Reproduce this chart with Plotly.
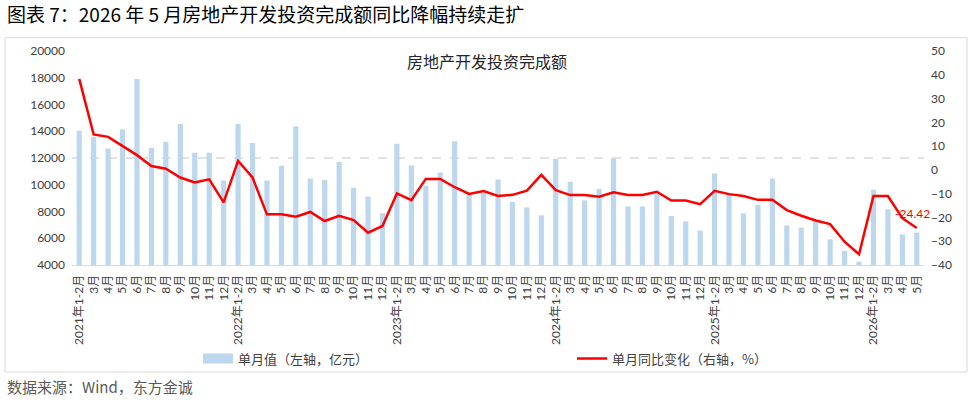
import plotly.graph_objects as go

# ---------------- data ----------------
years = ["2021", "2022", "2023", "2024", "2025", "2026"]
months_full = ["1-2", "3", "4", "5", "6", "7", "8", "9", "10", "11", "12"]
months_2026 = ["1-2", "3", "4", "5"]

monthly_value = [
    14030, 13580, 12710, 14130, 17910, 12760, 13210, 14550, 12390, 12390, 10320,
    14550, 13130, 10320, 11420, 14380, 10470, 10350, 11710, 9770, 9130, 7880,
    13060, 11440, 9920, 10920, 13260, 9300, 9380, 10400, 8710, 8310, 7710,
    11940, 10220, 8830, 9680, 11960, 8380, 8380, 9350, 7660, 7260, 6570,
    10840, 9300, 7860, 8510, 10470, 6960, 6790, 7360, 5920, 5050, 4250,
    9630, 8160, 6290, 6420,
]
monthly_yoy = [
    38.3, 14.9, 13.9, 10.1, 6.2, 1.6, 0.5, -3.2, -5.3, -4.0, -13.7,
    3.8, -3.2, -18.7, -18.7, -19.7, -17.7, -21.5, -19.3, -21.1, -26.4, -23.6,
    -9.9, -12.7, -3.8, -3.8, -7.3, -10.1, -8.9, -11.0, -10.5, -8.7, -2.1,
    -8.5, -10.6, -10.6, -11.3, -9.4, -10.6, -10.6, -9.2, -12.9, -12.9, -14.4,
    -8.8, -10.2, -11.0, -12.6, -12.6, -16.9, -19.3, -21.3, -22.8, -30.2, -35.5,
    -11.0, -11.0, -20.3, -24.42,
]

cat_ids, cat_labels = [], []
for y in years:
    ms = months_2026 if y == "2026" else months_full
    for m in ms:
        cat_ids.append(f"{y}-{m}")
        cat_labels.append(f"{y}年{m}月" if m == "1-2" else f"{m}月")

# ---------------- layout geometry ----------------
W, H = 974, 400
L, R, T, B = 72, 924, 51, 265
PW, PH = R - L, B - T


def px2x(px):
    return (px - L) / PW


def px2y(py):
    return (B - py) / PH


BAR_C = "#BDD7EE"
LINE_C = "#FF0000"
NUM_FONT = "Lato, Noto Sans CJK SC, sans-serif"
CJK_FONT = "Noto Sans CJK SC, sans-serif"

fig = go.Figure()
fig.add_trace(go.Bar(
    x=cat_ids, y=monthly_value, marker_color=BAR_C, marker_line_width=0,
    width=0.36, showlegend=False, yaxis="y",
))
# legend proxy for bars (wide swatch)
fig.add_trace(go.Scatter(
    x=[None], y=[None], mode="lines", line=dict(color=BAR_C, width=10),
    name="单月值（左轴，亿元）",
))
fig.add_trace(go.Scatter(
    x=cat_ids, y=monthly_yoy, mode="lines", line=dict(color=LINE_C, width=2.5),
    name="单月同比变化（右轴，%）", yaxis="y2",
))

fig.add_annotation(
    x=cat_ids[-1], y=monthly_yoy[-1], xref="x", yref="y2",
    text=f"{monthly_yoy[-1]:.2f}", showarrow=False, xshift=-4, yshift=14,
    font=dict(family=NUM_FONT, size=12, color=LINE_C),
)

fig.add_shape(type="line", xref="paper", yref="y", x0=0, x1=1, y0=12000, y1=12000,
              line=dict(color="#D9D9D9", width=1.5, dash="dash"), layer="below")
fig.add_shape(type="rect", xref="paper", yref="paper",
              x0=px2x(5), x1=px2x(967), y0=px2y(372), y1=px2y(37.7),
              line=dict(color="#D9D9D9", width=1))

fig.add_annotation(
    x=px2x(5), y=px2y(13), xref="paper", yref="paper", xanchor="left", yanchor="middle",
    text="图表 7：2026 年 5 月房地产开发投资完成额同比降幅持续走扩", showarrow=False,
    font=dict(family=CJK_FONT, size=19, color="#000000"),
)
fig.add_annotation(
    x=px2x(487), y=px2y(61), xref="paper", yref="paper", xanchor="center", yanchor="middle",
    text="房地产开发投资完成额", showarrow=False,
    font=dict(family=CJK_FONT, size=16, color="#262626"),
)
fig.add_annotation(
    x=px2x(5), y=px2y(386), xref="paper", yref="paper", xanchor="left", yanchor="middle",
    text="数据来源：Wind，东方金诚", showarrow=False,
    font=dict(family=CJK_FONT, size=15, color="#595959"),
)

fig.update_layout(
    width=W, height=H, autosize=False,
    margin=dict(l=L, r=W - R, t=T, b=H - B, pad=0),
    paper_bgcolor="white", plot_bgcolor="white",
    bargap=0.6,
    xaxis=dict(
        type="category", tickmode="array", tickvals=cat_ids, ticktext=cat_labels,
        tickangle=-90, tickfont=dict(family=NUM_FONT, size=12, color="#404040"),
        showgrid=False, showline=True, linecolor="#D9D9D9", linewidth=1,
        ticks="", ticklabelstandoff=4, range=[-0.5, len(cat_ids) - 0.5],
    ),
    yaxis=dict(
        range=[4000, 20000], dtick=2000, tickformat="d", showgrid=False, zeroline=False,
        tickfont=dict(family=NUM_FONT, size=12, color="#404040"), ticks="",
        ticklabelstandoff=6,
    ),
    yaxis2=dict(
        range=[-40, 50], dtick=10, overlaying="y", side="right", showgrid=False,
        zeroline=False, tickfont=dict(family=NUM_FONT, size=12, color="#404040"),
        ticks="", ticklabelstandoff=6,
    ),
    legend=dict(
        orientation="h", x=px2x(198), y=px2y(358.5), xanchor="left", yanchor="middle",
        entrywidth=329, entrywidthmode="pixels",
        font=dict(family=CJK_FONT, size=13, color="#404040"),
        bgcolor="rgba(0,0,0,0)",
    ),
)

fig.write_html("out.html")
